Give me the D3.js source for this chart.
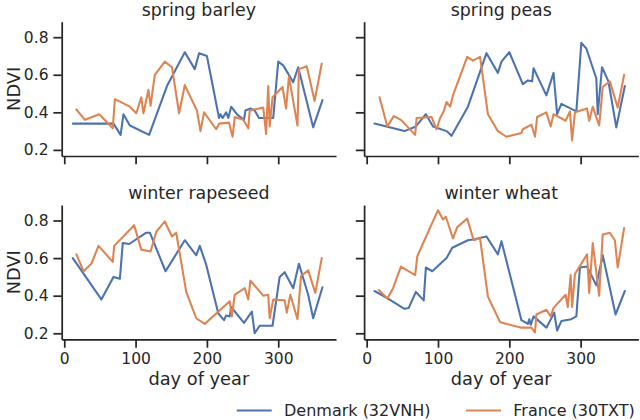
<!DOCTYPE html>
<html lang="en">
<head>
<meta charset="utf-8">
<title>NDVI by crop</title>
<style>
  body { margin: 0; background: #fff; }
  svg { font-family: "DejaVu Sans", sans-serif; }
  .axis path, .axis line { stroke: #262626; stroke-width: 1.74px; }
  .axis text { fill: #262626; font-size: 15.5px; font-family: "DejaVu Sans", sans-serif; }
</style>
</head>
<body>
<script src="https://cdn.jsdelivr.net/npm/d3@7"></script>
<script>
// crops (one panel each) and the two tiles
var crops = ["spring barley", "spring peas", "winter rapeseed", "winter wheat"];
var countries = ["Denmark (32VNH)", "France (30TXT)"];
var colors = ["#4c72b0", "#dd8452"];
var xTicks = [0, 100, 200, 300];
var yTicks = [0.2, 0.4, 0.6, 0.8];

// spring barley
var barleyDkDay  = [12, 69, 79, 83, 92, 119, 144, 169, 183, 189, 200, 217, 219, 222, 227, 230, 234, 242, 252, 254, 261, 267, 273, 278, 293, 300, 307, 321, 328, 349, 362];
var barleyDkNdvi = [0.34, 0.34, 0.28, 0.39, 0.33, 0.28, 0.54, 0.72, 0.63, 0.715, 0.70, 0.37, 0.39, 0.37, 0.40, 0.37, 0.43, 0.39, 0.36, 0.41, 0.42, 0.41, 0.37, 0.37, 0.37, 0.67, 0.65, 0.56, 0.64, 0.32, 0.465];
var barleyFrDay  = [17, 29, 49, 68, 71, 92, 101, 108, 111, 118, 121, 127, 141, 151, 161, 169, 186, 191, 196, 213, 217, 231, 236, 239, 251, 258, 260, 279, 283, 286, 288, 292, 306, 311, 315, 327, 329, 340, 351, 361];
var barleyFrNdvi = [0.415, 0.36, 0.39, 0.315, 0.47, 0.43, 0.395, 0.48, 0.395, 0.52, 0.435, 0.60, 0.67, 0.64, 0.395, 0.545, 0.41, 0.30, 0.40, 0.31, 0.34, 0.345, 0.27, 0.375, 0.36, 0.315, 0.41, 0.425, 0.285, 0.54, 0.325, 0.48, 0.535, 0.42, 0.59, 0.33, 0.63, 0.645, 0.46, 0.66];

// spring peas
var peasDkDay  = [11, 53, 69, 83, 93, 112, 119, 142, 168, 184, 189, 200, 219, 226, 232, 234, 252, 262, 267, 273, 294, 301, 308, 322, 324, 330, 339, 350, 362];
var peasDkNdvi = [0.34, 0.30, 0.325, 0.39, 0.325, 0.30, 0.275, 0.43, 0.715, 0.61, 0.67, 0.72, 0.55, 0.57, 0.565, 0.635, 0.49, 0.61, 0.39, 0.445, 0.405, 0.77, 0.74, 0.58, 0.39, 0.64, 0.565, 0.32, 0.54];
var peasFrDay  = [18, 29, 38, 48, 68, 70, 91, 98, 103, 108, 112, 117, 121, 141, 149, 159, 170, 184, 196, 217, 219, 231, 236, 239, 252, 258, 262, 279, 285, 288, 292, 309, 312, 317, 326, 331, 341, 352, 361];
var peasFrNdvi = [0.48, 0.325, 0.38, 0.36, 0.28, 0.37, 0.375, 0.31, 0.37, 0.405, 0.455, 0.43, 0.49, 0.695, 0.675, 0.695, 0.39, 0.30, 0.27, 0.29, 0.31, 0.335, 0.27, 0.375, 0.40, 0.325, 0.39, 0.355, 0.405, 0.25, 0.40, 0.42, 0.355, 0.43, 0.33, 0.535, 0.565, 0.425, 0.60];

// winter rapeseed
var rapeDkDay  = [12, 52, 69, 78, 82, 91, 115, 120, 142, 169, 185, 190, 199, 216, 224, 227, 232, 234, 252, 263, 267, 274, 292, 302, 309, 321, 329, 342, 349, 362];
var rapeDkNdvi = [0.60, 0.38, 0.50, 0.49, 0.68, 0.675, 0.735, 0.735, 0.53, 0.695, 0.615, 0.665, 0.565, 0.305, 0.27, 0.295, 0.29, 0.34, 0.255, 0.315, 0.20, 0.24, 0.24, 0.50, 0.525, 0.44, 0.57, 0.405, 0.28, 0.445];
var rapeFrDay  = [17, 27, 38, 48, 68, 70, 98, 108, 121, 129, 141, 151, 157, 171, 185, 197, 232, 235, 239, 253, 258, 261, 279, 286, 288, 293, 309, 312, 317, 327, 332, 342, 352, 361];
var rapeFrNdvi = [0.62, 0.53, 0.57, 0.665, 0.58, 0.665, 0.775, 0.645, 0.635, 0.74, 0.795, 0.715, 0.735, 0.42, 0.28, 0.25, 0.37, 0.29, 0.405, 0.44, 0.38, 0.48, 0.40, 0.405, 0.28, 0.38, 0.375, 0.31, 0.405, 0.275, 0.505, 0.535, 0.415, 0.60];

// winter wheat
var wheatDkDay  = [11, 30, 53, 59, 69, 80, 83, 92, 112, 120, 142, 151, 168, 184, 189, 217, 226, 228, 230, 234, 252, 263, 267, 273, 287, 294, 299, 309, 322, 331, 349, 362];
var wheatDkNdvi = [0.425, 0.385, 0.33, 0.335, 0.42, 0.375, 0.55, 0.53, 0.60, 0.655, 0.695, 0.70, 0.715, 0.62, 0.69, 0.27, 0.25, 0.275, 0.245, 0.29, 0.23, 0.31, 0.215, 0.265, 0.275, 0.29, 0.55, 0.555, 0.455, 0.615, 0.30, 0.425];
var wheatFrDay  = [17, 29, 37, 48, 68, 71, 100, 107, 111, 121, 127, 141, 150, 159, 170, 187, 196, 217, 231, 236, 238, 252, 258, 262, 279, 282, 286, 288, 292, 309, 312, 317, 326, 331, 341, 348, 352, 361];
var wheatFrNdvi = [0.43, 0.385, 0.44, 0.555, 0.51, 0.61, 0.855, 0.805, 0.82, 0.705, 0.765, 0.81, 0.695, 0.705, 0.395, 0.26, 0.25, 0.23, 0.23, 0.205, 0.30, 0.325, 0.29, 0.335, 0.405, 0.34, 0.51, 0.34, 0.515, 0.62, 0.415, 0.68, 0.40, 0.725, 0.735, 0.695, 0.55, 0.76];

var series = [
  [[barleyDkDay, barleyDkNdvi], [barleyFrDay, barleyFrNdvi]],
  [[peasDkDay, peasDkNdvi], [peasFrDay, peasFrNdvi]],
  [[rapeDkDay, rapeDkNdvi], [rapeFrDay, rapeFrNdvi]],
  [[wheatDkDay, wheatDkNdvi], [wheatFrDay, wheatFrNdvi]]
];

var width = 640, height = 420;
var svg = d3.select("body").append("svg")
  .attr("width", width)
  .attr("height", height);

// panel boxes: [left, right] per column, [top, bottom] per row
var colX = [[61.7, 336], [364.1, 638.4]];
var rowY = [[21.7, 156], [205, 339.4]];

var xDomain = [-3.6, 381];
var yDomain = [0.1675, 0.8825];

crops.forEach(function (crop, i) {
  var col = i % 2, row = Math.floor(i / 2);
  var x = d3.scaleLinear().domain(xDomain).range(colX[col]);
  var y = d3.scaleLinear().domain(yDomain).range([rowY[row][1], rowY[row][0]]);
  var g = svg.append("g");

  // lines
  var line = d3.line()
    .x(function (d) { return x(d[0]); })
    .y(function (d) { return y(d[1]); });
  series[i].forEach(function (s, k) {
    var pts = s[0].map(function (d, j) { return [d, s[1][j]]; });
    g.append("path")
      .datum(pts)
      .attr("fill", "none")
      .attr("stroke", colors[k])
      .attr("stroke-width", 2.08)
      .attr("stroke-linejoin", "round")
      .attr("stroke-linecap", "round")
      .attr("d", line);
  });

  // x axis, labels only on the bottom row
  var xAxis = d3.axisBottom(x)
    .tickValues(xTicks)
    .tickSize(8.3)
    .tickSizeOuter(0)
    .tickPadding(5.5);
  if (row === 0) xAxis.tickFormat("");
  g.append("g")
    .attr("class", "axis")
    .attr("transform", "translate(0," + rowY[row][1] + ")")
    .call(xAxis);

  // y axis, labels only on the left column
  var yAxis = d3.axisLeft(y)
    .tickValues(yTicks)
    .tickSize(8.3)
    .tickSizeOuter(0)
    .tickPadding(4.9)
    .tickFormat(d3.format(".1f"));
  if (col === 1) yAxis.tickFormat("");
  g.append("g")
    .attr("class", "axis")
    .attr("transform", "translate(" + colX[col][0] + ",0)")
    .call(yAxis);

  // title
  g.append("text")
    .attr("x", (colX[col][0] + colX[col][1]) / 2)
    .attr("y", rowY[row][0] - 5.7)
    .attr("text-anchor", "middle")
    .attr("fill", "#262626")
    .style("font-size", "17.4px")
    .text(crop);

  if (col === 0) {
    g.append("text")
      .attr("transform", "translate(20," + (rowY[row][0] + rowY[row][1]) / 2 + ") rotate(-90)")
      .attr("text-anchor", "middle")
      .attr("fill", "#262626")
      .style("font-size", "17.8px")
      .text("NDVI");
  }
  if (row === 1) {
    g.append("text")
      .attr("x", (colX[col][0] + colX[col][1]) / 2)
      .attr("y", 385)
      .attr("text-anchor", "middle")
      .attr("fill", "#262626")
      .style("font-size", "17.8px")
      .text("day of year");
  }
});

// legend
var legendX = [236.7, 466];
var legend = svg.append("g");
countries.forEach(function (c, k) {
  legend.append("line")
    .attr("x1", legendX[k]).attr("x2", legendX[k] + 35)
    .attr("y1", 410.5).attr("y2", 410.5)
    .attr("stroke", colors[k])
    .attr("stroke-width", 2.08);
  legend.append("text")
    .attr("x", legendX[k] + 47.3)
    .attr("y", 416.3)
    .attr("fill", "#262626")
    .style("font-size", "16px")
    .text(c);
});
</script>
</body>
</html>
